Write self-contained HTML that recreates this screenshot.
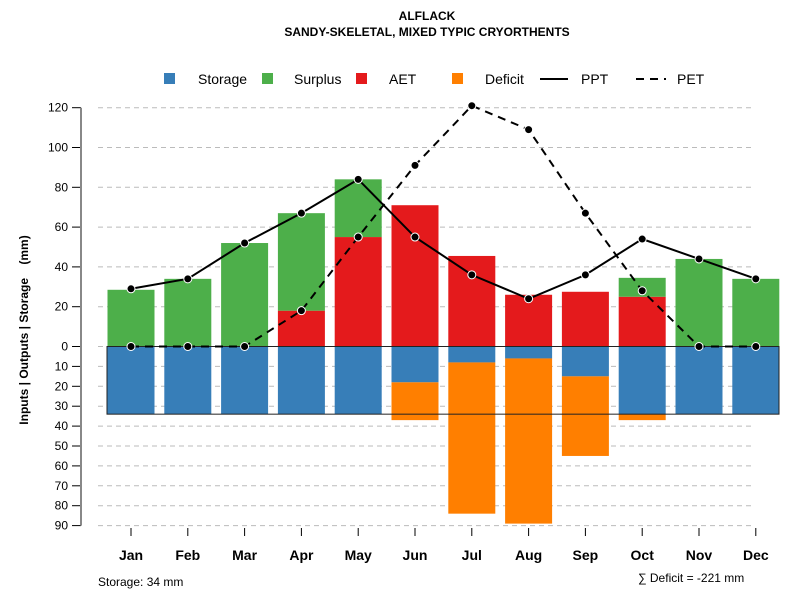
<!DOCTYPE html>
<html><head><meta charset="utf-8"><style>
body{margin:0;background:#fff}
svg text{font-family:"Liberation Sans",Arial,sans-serif}
</style></head><body>
<svg id="chart" width="800" height="600" viewBox="0 0 800 600">
<text x="427" y="20" text-anchor="middle" font-size="12" font-weight="bold">ALFLACK</text>
<text x="427" y="36" text-anchor="middle" font-size="12" font-weight="bold">SANDY-SKELETAL, MIXED TYPIC CRYORTHENTS</text>
<g>
<rect x="164" y="73" width="11" height="11" fill="#377eb8"/>
<text x="198" y="84" font-size="14">Storage</text>
<rect x="262" y="73" width="11" height="11" fill="#4daf4a"/>
<text x="294" y="84" font-size="14">Surplus</text>
<rect x="356" y="73" width="11" height="11" fill="#e41a1c"/>
<text x="389" y="84" font-size="14">AET</text>
<rect x="452" y="73" width="11" height="11" fill="#ff7f00"/>
<text x="485" y="84" font-size="14">Deficit</text>
<line x1="540" y1="79" x2="568" y2="79" stroke="#000" stroke-width="2"/>
<text x="581" y="84" font-size="14">PPT</text>
<line x1="636" y1="79" x2="666" y2="79" stroke="#000" stroke-width="2" stroke-dasharray="8,6"/>
<text x="677" y="84" font-size="14">PET</text>
</g>
<text transform="translate(28,330) rotate(-90)" text-anchor="middle" font-size="12" font-weight="bold">Inputs | Outputs | Storage&#160;&#160;&#160;&#160;(mm)</text>
<g id="grid"></g><g id="bars"></g><g id="lines"></g><g id="axes"></g>
<text x="98" y="586" font-size="12">Storage: 34 mm</text>
<text x="638" y="582" font-size="12">∑ Deficit = -221 mm</text>
</svg>
<script>
const months=["Jan","Feb","Mar","Apr","May","Jun","Jul","Aug","Sep","Oct","Nov","Dec"];
const ppt=[29,34,52,67,84,55,36,24,36,54,44,34];
const pet=[0,0,0,18,55,91,121,109,67,28,0,0];
const aet=[0,0,0,18,55,71,45.5,26,27.5,25,0,0];
const surplus=[28.5,34,52,49,29,0,0,0,0,9.5,44,34];
const storage=[34,34,34,34,34,18,8,6,15,34,34,34];
const deficit=[0,0,0,0,0,19,76,83,40,3,0,0];
const storageCap=34;
const upTicks=[0,20,40,60,80,100,120];
const downTicks=[10,20,30,40,50,60,70,80,90];
const NS="http://www.w3.org/2000/svg";
const y0=346.5,k=1.99;
const yUp=v=>y0-v*k, yDn=v=>y0+v*k;
const xC=i=>131+i*56.8, bw=47;
function mk(tag,attrs,parent){const e=document.createElementNS(NS,tag);for(const a in attrs)e.setAttribute(a,attrs[a]);document.getElementById(parent).appendChild(e);return e;}
upTicks.concat(downTicks).forEach((t,j)=>{
 const y=j<upTicks.length?yUp(t):yDn(t);
 const g=mk('line',{x1:98,x2:755,y1:y,y2:y,stroke:'#bbb','stroke-dasharray':'5,4'},'grid');
 
 
 const tk=mk('line',{x1:72,x2:81,y1:y,y2:y,stroke:'#000'},'axes');
 
 
 const tx=mk('text',{x:68,y:y+4,'text-anchor':'end','font-size':12},'axes');
 tx.textContent=t;
 
 
});
const ax=mk('line',{x1:81,x2:81,y1:yUp(120),y2:yDn(90),stroke:'#888','stroke-width':2},'axes');


function bar(x,y1,y2,fill,name){const r=mk('rect',{x:x-bw/2,y:Math.min(y1,y2),width:bw,height:Math.abs(y2-y1),fill:fill},'bars');}
months.forEach((m,i)=>{
 const x=xC(i);
 if(aet[i]>0)bar(x,yUp(0),yUp(aet[i]),'#e41a1c','bar-aet-'+m.toLowerCase());
 if(surplus[i]>0)bar(x,yUp(aet[i]),yUp(aet[i]+surplus[i]),'#4daf4a','bar-surplus-'+m.toLowerCase());
 if(storage[i]>0)bar(x,yDn(0),yDn(storage[i]),'#377eb8','bar-storage-'+m.toLowerCase());
 if(deficit[i]>0)bar(x,yDn(storage[i]),yDn(storage[i]+deficit[i]),'#ff7f00','bar-deficit-'+m.toLowerCase());
 const tk=mk('line',{x1:x,x2:x,y1:528,y2:536,stroke:'#000'},'axes');
 
 
 const tx=mk('text',{x:x,y:560,'text-anchor':'middle','font-size':14,'font-weight':'bold'},'axes');
 tx.textContent=m;
 
 
});
const box=mk('rect',{x:107,y:yDn(0),width:672,height:storageCap*k,fill:'none',stroke:'#222','stroke-width':1},'bars');


function series(vals,dash,name){
 const p=mk('polyline',{points:vals.map((v,i)=>xC(i)+','+yUp(v)).join(' '),fill:'none',stroke:'#000','stroke-width':2,'stroke-dasharray':dash},'lines');
 
 
 vals.forEach((v,i)=>{const c=mk('circle',{cx:xC(i),cy:yUp(v),r:4,fill:'#000',stroke:'#fff','stroke-width':1},'lines');
 
 });
}
series(pet,'8,6','pet');
series(ppt,'none','ppt');
</script>
</body></html>
